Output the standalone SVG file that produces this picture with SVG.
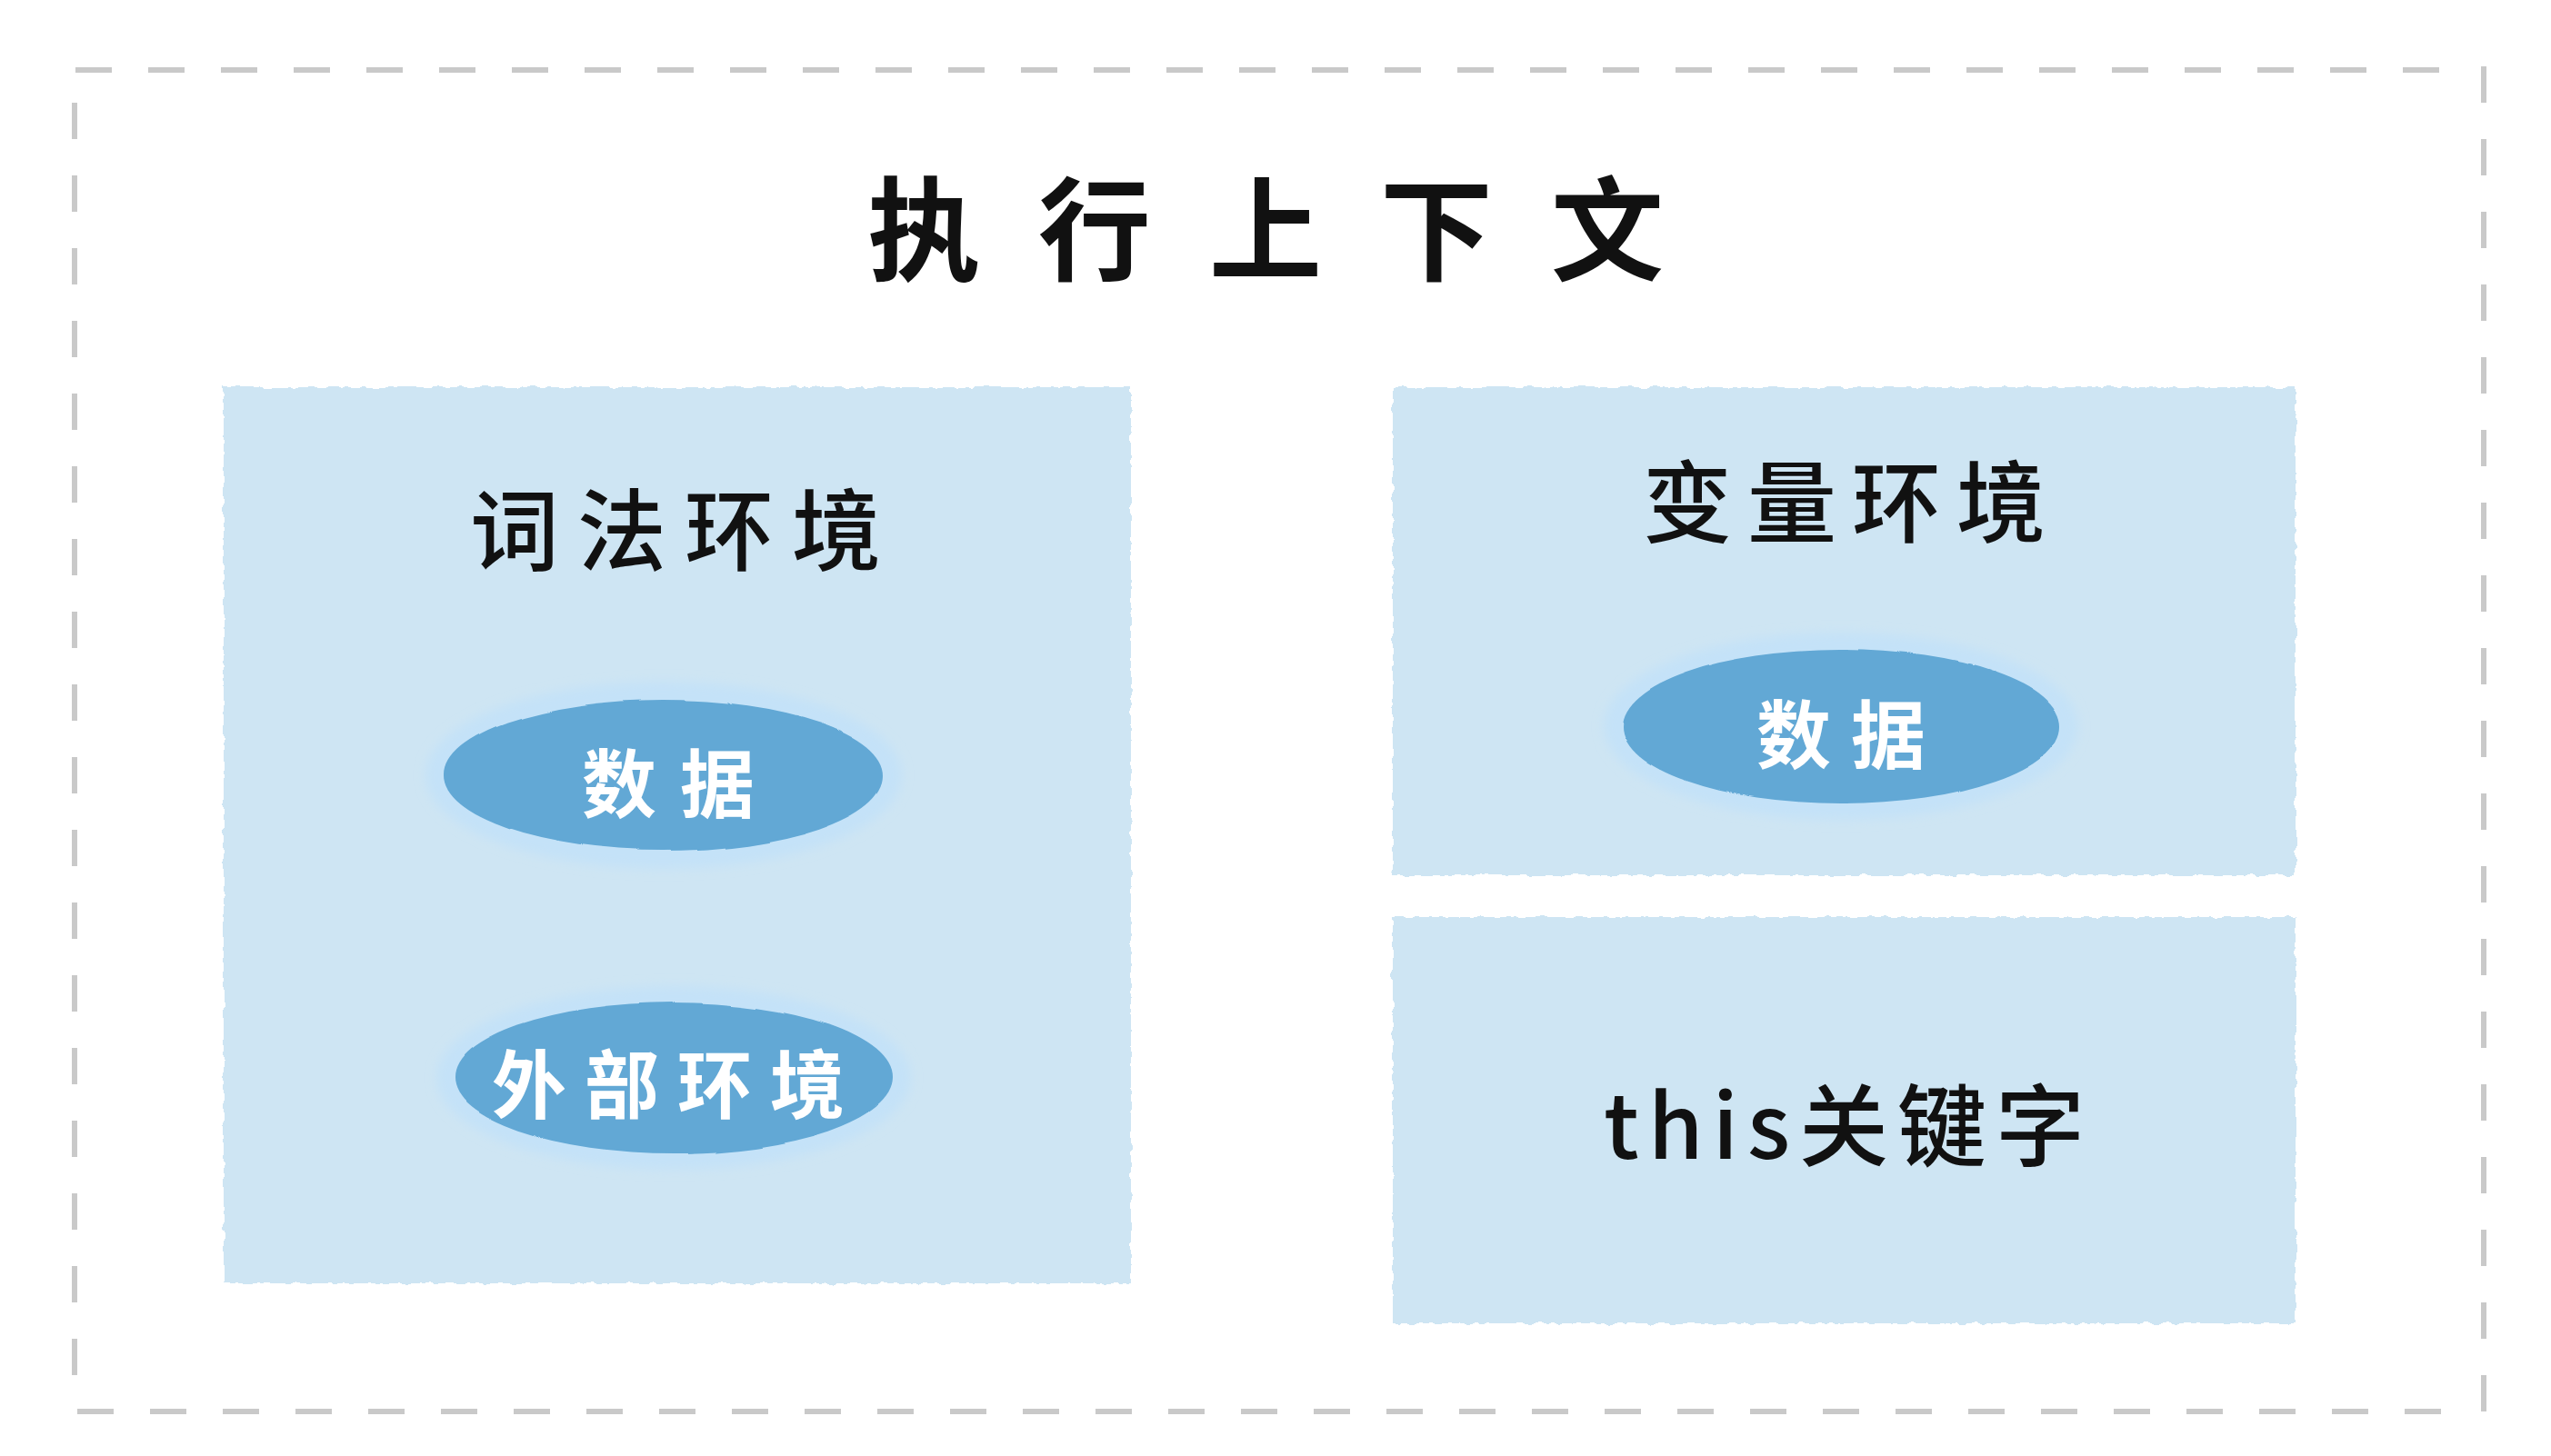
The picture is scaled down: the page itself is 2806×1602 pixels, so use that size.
<svg xmlns="http://www.w3.org/2000/svg" width="2806" height="1602" viewBox="0 0 2806 1602">
<defs>
<filter id="rough" x="-2%" y="-2%" width="104%" height="104%">
<feTurbulence type="fractalNoise" baseFrequency="0.09" numOctaves="2" seed="3" result="n"/>
<feDisplacementMap in="SourceGraphic" in2="n" scale="7" xChannelSelector="R" yChannelSelector="G"/>
</filter>
<filter id="soft" x="-10%" y="-20%" width="120%" height="140%">
<feGaussianBlur stdDeviation="6"/>
</filter>
<filter id="blob" x="-5%" y="-10%" width="110%" height="120%">
<feTurbulence type="fractalNoise" baseFrequency="0.008" numOctaves="1" seed="7" result="n"/>
<feDisplacementMap in="SourceGraphic" in2="n" scale="8" xChannelSelector="R" yChannelSelector="G"/>
</filter>
</defs>
<style>
.border{fill:none;stroke:#c9c9c9;stroke-width:6;stroke-dasharray:40 40}
.panel{fill:#cee5f3;filter:url(#rough)}
.halo{fill:#c4e2f8;filter:url(#soft)}
.pill{fill:#62a8d5;filter:url(#blob)}
.t{font-family:"Noto Sans CJK SC","Noto Sans",sans-serif;fill:#111}
.title{font-size:124px;font-weight:700;letter-spacing:64px}
.h{font-size:98px;font-weight:500}
.w{font-size:82px;font-weight:700;fill:#ffffff}
</style>
<g id="frame">
<line class="border" x1="83" y1="77" x2="2700" y2="77"/>
<line class="border" x1="2732" y1="73" x2="2732" y2="1560"/>
<line class="border" x1="85" y1="1553" x2="2700" y2="1553"/>
<line class="border" x1="82" y1="113" x2="82" y2="1520"/>
</g>
<g id="title">
<text class="t title" x="954" y="299">执行上下文</text>
</g>
<g id="lexical-env">
<rect class="panel" x="246" y="426" width="998" height="986"/>
<text class="t h" x="517" y="620" style="letter-spacing:20px">词法环境</text>
</g>
<g id="lexical-data">
<ellipse class="halo" cx="730" cy="853" rx="262" ry="103"/>
<ellipse class="pill" cx="730" cy="853" rx="242" ry="83"/>
<text class="t w" x="640" y="893" style="letter-spacing:26px">数据</text>
</g>
<g id="outer-env">
<ellipse class="halo" cx="741" cy="1186" rx="261" ry="101"/>
<ellipse class="pill" cx="741" cy="1186" rx="241" ry="83"/>
<text class="t w" x="541" y="1224" style="letter-spacing:20px">外部环境</text>
</g>
<g id="variable-env">
<rect class="panel" x="1532" y="426" width="993" height="537"/>
<text class="t h" x="1807" y="589" style="letter-spacing:17px">变量环境</text>
</g>
<g id="variable-data">
<ellipse class="halo" cx="2025" cy="799" rx="261" ry="103"/>
<ellipse class="pill" cx="2025" cy="799" rx="241" ry="85"/>
<text class="t w" x="1932" y="839" style="letter-spacing:22px">数据</text>
</g>
<g id="this-keyword">
<rect class="panel" x="1532" y="1009" width="993" height="447"/>
<text class="t h" x="1764" y="1275" style="letter-spacing:10px">this关键字</text>
</g>
<g id="connectors"></g>
</svg>
